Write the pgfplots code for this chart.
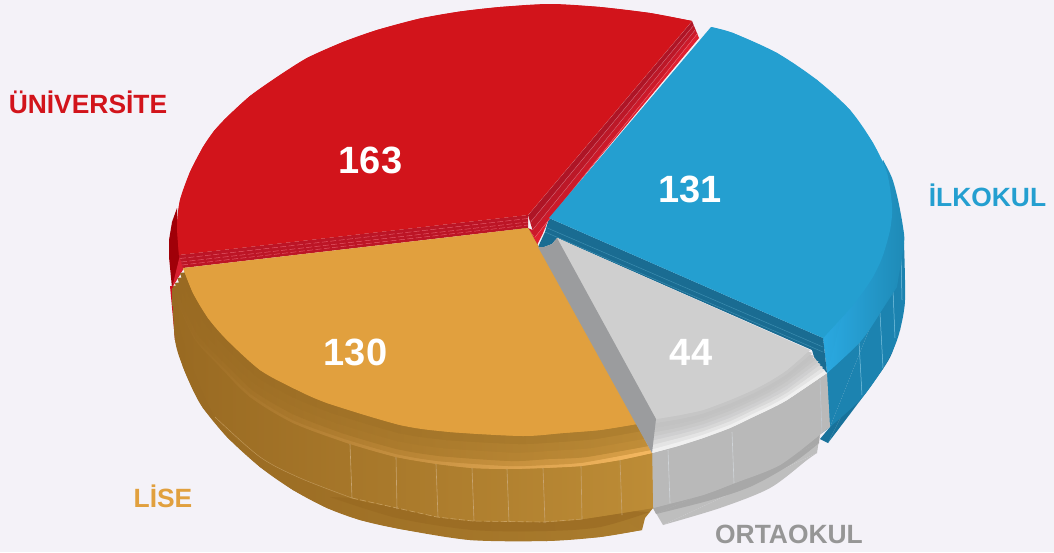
\documentclass[border=0pt]{standalone}
\usepackage{fontspec}
\setmainfont{Liberation Sans}
\usepackage{pgfplots}
\pgfplotsset{compat=1.18}
\definecolor{redT}{HTML}{D2141B}
\definecolor{blueT}{HTML}{249FD0}
\definecolor{orT}{HTML}{E1A03E}
\definecolor{grL}{HTML}{969696}
\newcommand\mk[1]{\definecolor{c#1}{HTML}{#1}}
\newcommand\poly[2]{\mk{#1}\addplot[fill=c#1,draw=none,forget plot] coordinates {#2};}
\newcommand\arcf[2]{\mk{#1}\addplot[fill=c#1,draw=none,smooth,forget plot] coordinates {#2};}
\newcommand\shd[4]{\mk{#1}\mk{#2}\mk{#3}\addplot[draw=none,left color=c#1,middle color=c#2,right color=c#3,forget plot] coordinates {#4};}
\newcommand\sarc[4]{\mk{#1}\mk{#2}\mk{#3}\addplot[draw=none,smooth,left color=c#1,middle color=c#2,right color=c#3,forget plot] coordinates {#4};}
\newcommand\lin[3]{\mk{#1}\addplot[color=c#1,line width=#2,forget plot] coordinates {#3};}
\newcommand\dsh[3]{\mk{#1}\addplot[color=c#1,line width=#2,dash pattern=on 3pt off 1.2pt,forget plot] coordinates {#3};}
\newcommand\slin[3]{\mk{#1}\addplot[color=c#1,line width=#2,smooth,forget plot] coordinates {#3};}
\newcommand\gband[2]{\poly{#1}{#2(557,238)}\arcf{#1}{#2}}
\newcommand\oband[4]{\shd{#1}{#2}{#3}{#4(528,228)}\sarc{#1}{#2}{#3}{#4}}
\begin{document}
\begin{tikzpicture}
\begin{axis}[hide axis,scale only axis,width=527pt,height=276pt,xmin=0,xmax=1054,ymin=0,ymax=552,y dir=reverse,clip=false]
\poly{F4F2F8}{(0,0)(1054,0)(1054,552)(0,552)}
% --- blue: rim, wall, bevel, cut
\arcf{18729B}{(904,290)(904,307)(892,353)(873,383)(853,410)(828,443)}
\poly{18729B}{(828,443)(820,439)(830,427)(900,330)(904,290)}
\arcf{1C83B0}{(904,243)(905,300)(900,330)(893,350)(880,373)(860,400)(830,427)}
\poly{1C83B0}{(827,373)(904,243)(830,427)(822,433)}
\lin{7FC4E0}{0.25pt}{(859,342)(862,395)}
\lin{7FC4E0}{0.25pt}{(880,313)(883,368)}
\lin{7FC4E0}{0.25pt}{(893,290)(895,338)}
\lin{7FC4E0}{0.25pt}{(901,255)(902,300)}
\shd{2AA8E0}{2193C2}{1E8AB6}{(827,373)(860,342)(880,313)(897,287)(904,243)(883,160)(860,250)(823,338)}
\sarc{2AA8E0}{2193C2}{1E8AB6}{(827,373)(860,342)(880,313)(897,280)(904,243)(903,227)(898,200)(892,178)(883,160)}
\poly{1A6C92}{(549,218)(823,338)(827,373)(820,366)(814,357)(812,350)(557,238)(552,244)(544,247)(538,247)(545,232)}
\lin{3C8DB0}{0.25pt}{(545,227)(823,347)}
\lin{3C8DB0}{0.25pt}{(545,232)(823,352)}
% --- gray
\poly{BEBEBE}{(653,508)(820,433)(817,453)(663,525)}
\arcf{BEBEBE}{(663,525)(720,508)(770,488)(807,460)(817,453)}
\arcf{A8A8A8}{(656,514)(711,500)(752,486)(793,463)(819,443)}
\poly{A8A8A8}{(653,508)(820,433)(819,443)(656,514)}
\poly{B9B9B9}{(652,453)(703,438)(753,417)(787,400)(827,373)(830,427)(822,433)(780,465)(735,483)(703,495)(653,508)}
\arcf{B9B9B9}{(653,508)(703,495)(735,483)(780,465)(822,433)}
\lin{D0D4D8}{0.3pt}{(668,450)(670,503)}
\lin{D0D4D8}{0.3pt}{(732,432)(734,483)}
\lin{C0C8D0}{0.3pt}{(820,380)(822,433)}
\gband{F0F0F0}{(827,373)(787,400)(770,409)(753,417)(730,428)(703,438)(678,446)(652,453)}
\gband{E4E4E4}{(825,370)(787,396)(770,405.5)(753,413.5)(730,424.5)(703,434.5)(678,442)(652.5,449)}
\gband{D8D8D8}{(823,367)(787,392.5)(770,402)(753,410)(730,421)(703,431)(678.5,438)(653,444.5)}
\gband{CFCFD0}{(820.5,364)(787,389)(770,398.5)(753,407)(730,417.5)(703,427.5)(679,434)(653.5,440)}
\gband{C9C9C9}{(818.5,361.5)(787,385)(770,395)(753,403.5)(730,414)(703,424)(679,430.5)(654,436)}
\gband{C4C4C4}{(816,359)(787,381)(770,391.5)(753,400)(730,410.5)(703,420.5)(679.5,427)(654.5,432)}
\gband{C2C2C2}{(814,356)(787,377.5)(770,388)(753,397)(730,407)(703,417)(679.5,423)(655,427.5)}
\gband{C6C6C6}{(812,353)(787,374)(770,384.5)(753,393.5)(730,403.5)(703,413.5)(680,419)(655.5,423)}
\gband{CFCFCF}{(810,350)(787,370)(770,381)(753,390)(730,400)(703,410)(680,415)(656,419)}
% --- red sides and top
\poly{A00008}{(177,208)(172,222)(169,240)(169,257)(172,288)(180,262)(180,255)(177,223)}
\poly{D82030}{(180,255)(172,288)(184,268)}
\poly{D01020}{(170,286)(175,340)(179,340)(175,286)}
\poly{BC1526}{(179,255)(528,215)(528,228)(183,268)}
\dsh{E8606F}{0.22pt}{(180,258.5)(528,218.5)}
\dsh{E8606F}{0.22pt}{(181,262)(528,222)}
\dsh{E8606F}{0.22pt}{(182,265)(528,225)}
\poly{AE1526}{(528,215)(692,21)(693.75,25.25)(530.25,222.5)}
\poly{BC1828}{(530.25,222.5)(693.75,25.25)(695.5,29.5)(532.5,230)}
\poly{CC1A2A}{(532.5,230)(695.5,29.5)(697.25,33.75)(534.75,237.5)(528,228)}
\poly{E0202F}{(534.75,237.5)(697.25,33.75)(699,38)(549,218)(543,233)(537,245)(528,228)}
\lin{D06070}{0.2pt}{(530.25,222.5)(693.75,25.25)}
\lin{D06070}{0.2pt}{(532.5,230)(695.5,29.5)}
\lin{E8606F}{0.2pt}{(534.75,237.5)(697.25,33.75)}
\lin{D8A0A8}{0.2pt}{(528,215)(692,21)}
\poly{D2141B}{(179,255)(177,225)(180,200)(190,172)(203,147)(214,131)(227,117)(250,96)(277,77)(307,58)(343,42)(377,30)(420,18.5)(460,11.5)(500,7)(550,4)(600,7)(650,13)(692,21)(528,215)}
\arcf{D2141B}{(179,255)(177,225)(180,200)(190,172)(203,147)(214,131)(227,117)(250,96)(277,77)(307,58)(343,42)(377,30)(420,18.5)(460,11.5)(500,7)(550,4)(600,7)(650,13)(692,21)}
% --- blue top
\poly{249FD0}{(549,218)(711,27)(733,33)(777,53)(817,80)(850,110)(873,143)(887,173)(892,207)(890,230)(880,260)(873,277)(853,303)(823,338)}
\arcf{249FD0}{(711,27)(733,33)(777,53)(817,80)(850,110)(873,143)(887,173)(892,207)(890,230)(882,258)(871,280)(853,305)(823,338)}
% --- orange
\shd{996A22}{9C6E25}{AA7C2D}{(172,288)(175,340)(183,367)(193,390)(203,408)(227,437)(260,467)(293,490)(327,508)(360,520)(400,529)(470,540)(547,541)(600,537)(642,530)(645,518)(653,508)(652,453)}
\sarc{996A22}{9C6E25}{AA7C2D}{(172,288)(175,340)(183,367)(193,390)(203,408)(227,437)(260,467)(293,490)(327,508)(360,520)(400,529)(470,540)(547,541)(600,537)(642,530)}
\sarc{9A6B22}{996A22}{9F7026}{(330,497)(397,518)(473,530)(547,531)(600,527)(650,512)}
\shd{996A22}{9C6D23}{BD8C36}{(172,288)(178,305)(195,340)(220,367)(250,397)(293,423)(347,443)(396,457)(437,464)(472,468)(507,469)(543,468)(581,466)(620,460)(652,453)(653,508)(583,519)(543,522)(473,521)(437,517)(397,508)(350,498)(300,478)(260,457)(215,417)(183,340)}
\sarc{996A22}{9C6D23}{BD8C36}{(172,288)(183,340)(215,417)(260,457)(300,478)(350,498)(397,508)(437,517)(473,521)(543,522)(583,519)(653,508)}
\slin{C0985A}{0.22pt}{(352,498)(300,478)(260,457)(215,417)}
\dsh{C8A060}{0.3pt}{(352,498)(397,508)(437,517)(473,521)(543,522)(583,519)}
\lin{C8A470}{0.3pt}{(350,444)(352,498)}
\lin{C8A470}{0.3pt}{(396,457)(397,509)}
\lin{C8A470}{0.3pt}{(436,464)(438,517)}
\lin{C8A470}{0.3pt}{(472,468)(474,521)}
\lin{C8A470}{0.3pt}{(507,469)(509,522)}
\lin{C8A470}{0.3pt}{(543,468)(545,523)}
\lin{C8A470}{0.3pt}{(581,466)(582,519)}
\lin{C8A470}{0.3pt}{(620,460)(622,515)}
\oband{996A22}{B08030}{F5B860}{(172,288)(178,305)(195,340)(220,367)(250,397)(293,423)(347,443)(396,457)(437,464)(472,468)(507,469)(543,468)(581,466)(620,460)(652,453)}
\oband{996A22}{AE7E2F}{D9A048}{(173,286)(179.5,304)(196,338)(220.5,364)(251,394)(293,420)(345,439)(396.5,454)(438,461)(508.5,466)(545,465)(583,462.5)(650.5,450)}
\oband{996A22}{AA7C2D}{C08D38}{(175,283)(182,302)(198,334.5)(222,360)(252.5,390)(293,414)(342,433)(397,449)(440,456)(511,461)(548,459)(586,457)(648,446)}
\oband{996A22}{A67829}{B98835}{(177.5,278)(185.5,299)(201.5,329)(223.5,353.5)(255,383.5)(293,405.5)(337,423)(398,441)(443.5,448)(515,452.5)(553,450.5)(590.5,448)(644.5,438.5)}
\oband{996A22}{A07226}{AF8030}{(180,273)(189,296)(205,323.5)(225,346.5)(257.5,377)(293,397)(332,413)(399,433)(447,440)(519,444)(558,442)(595,439)(641,431)}
\poly{E1A03E}{(183,268)(193,293)(208,318)(227,340)(260,370)(293,388)(327,403)(400,425)(450,432)(523,436)(563,433)(600,430)(637,424)(528,228)}
\arcf{E1A03E}{(183,268)(193,293)(208,318)(227,340)(260,370)(293,388)(327,403)(400,425)(450,432)(523,436)(563,433)(600,430)(637,424)}
% --- gray cut
\poly{9B9C9E}{(538,247)(544,247)(552,244)(557,238)(656,419)(652,453)}
% --- text
\node[anchor=base,text=white,font=\fontsize{19}{19}\selectfont\bfseries] at (axis cs:370.5,173) {163};
\node[anchor=base,text=white,font=\fontsize{19}{19}\selectfont\bfseries] at (axis cs:690,202) {131};
\node[anchor=base,text=white,font=\fontsize{19}{19}\selectfont\bfseries] at (axis cs:355.5,365) {130};
\node[anchor=base,text=white,font=\fontsize{19}{19}\selectfont\bfseries] at (axis cs:691,365) {44};
\node[anchor=base,text=redT,font=\fontsize{13.2}{13.2}\selectfont\bfseries] at (axis cs:88,113) {ÜNİVERSİTE};
\node[anchor=base,text=blueT,font=\fontsize{13.2}{13.2}\selectfont\bfseries] at (axis cs:987.5,206) {İLKOKUL};
\node[anchor=base,text=orT,font=\fontsize{13.2}{13.2}\selectfont\bfseries] at (axis cs:163,507) {LİSE};
\node[anchor=base,text=grL,font=\fontsize{13.2}{13.2}\selectfont\bfseries] at (axis cs:789,543) {ORTAOKUL};
\end{axis}
\end{tikzpicture}
\end{document}
